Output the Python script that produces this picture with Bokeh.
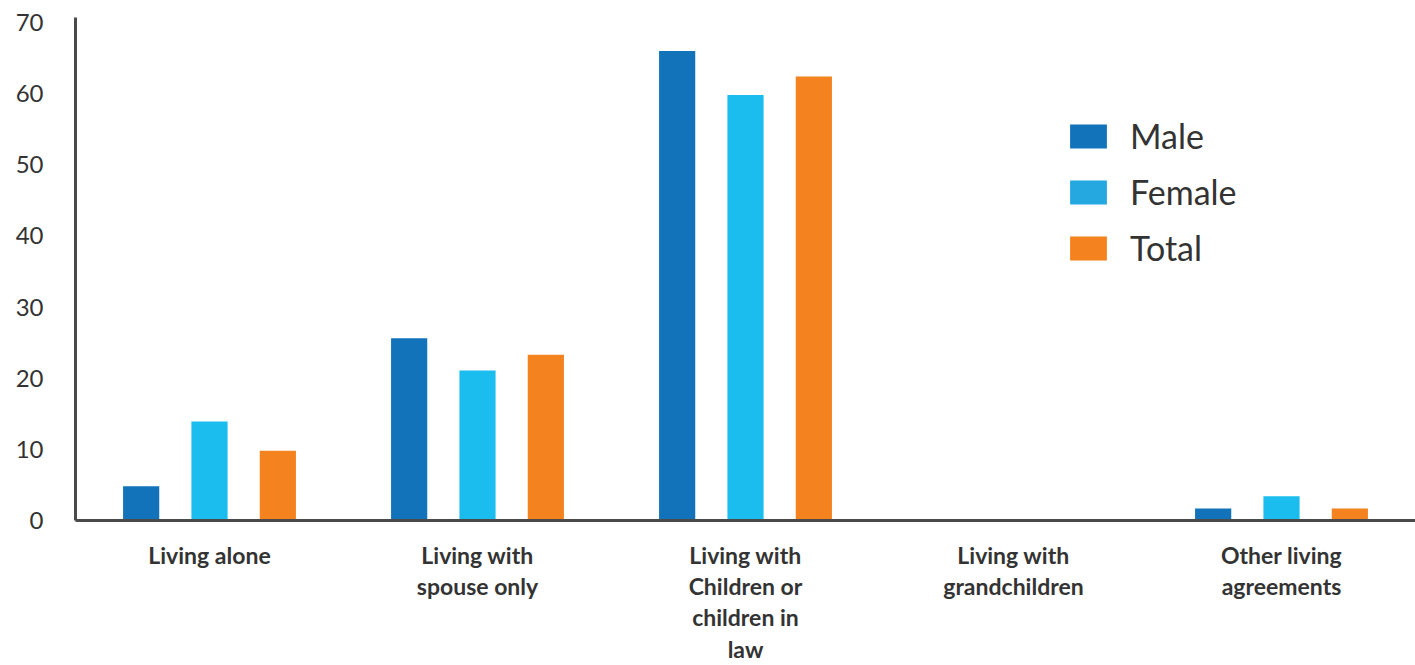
from bokeh.plotting import figure
from bokeh.models import ColumnDataSource, FactorRange, Legend, LegendItem
from bokeh.transform import dodge
from bokeh.embed import file_html
from bokeh.resources import INLINE

# Living arrangements (percent) by sex
categories = ["Living alone", "Living with\nspouse only",
              "Living with\nChildren or\nchildren in\nlaw",
              "Living with\ngrandchildren", "Other living\nagreements"]
male = [4.8, 25.6, 66.0, 0.0, 1.7]
female = [13.9, 21.1, 59.8, 0.0, 3.4]
total = [9.8, 23.3, 62.4, 0.0, 1.7]
series_names = ["Male", "Female", "Total"]
bar_colors = ["#1273BA", "#1BBDEE", "#F4821F"]
legend_colors = ["#1273BA", "#25A7E0", "#F4821F"]
y_ticks = [0, 10, 20, 30, 40, 50, 60, 70]

FONT = "Lato"
AXIS_COLOR = "#4a4a4a"
TEXT_COLOR = "#333333"

source = ColumnDataSource(dict(cat=categories, Male=male, Female=female, Total=total))

p = figure(width=1415, height=665, output_backend="svg", toolbar_location=None,
           x_range=FactorRange(*categories, range_padding=0), y_range=(0, 70.7),
           min_border_left=75, min_border_right=0, min_border_top=17,
           min_border_bottom=145)

p.outline_line_color = None
p.xgrid.grid_line_color = None
p.ygrid.grid_line_color = None
p.background_fill_color = "white"
p.border_fill_color = "white"

offsets = [-0.255, 0.0, 0.255]
for name, color, off in zip(series_names, bar_colors, offsets):
    p.vbar(x=dodge("cat", off, range=p.x_range), top=name, width=0.135,
           source=source, color=color, line_color=None)

# Legend swatches come from placeholder area renderers (no visible data points)
nan = float("nan")
items = []
for name, color in zip(series_names, legend_colors):
    r = p.quad(left=[nan], right=[nan], top=[nan], bottom=[nan],
               fill_color=color, line_color=None)
    items.append(LegendItem(label=name, renderers=[r]))

legend = Legend(items=items, location=(990, 252), orientation="vertical",
                glyph_width=46, glyph_height=30, label_height=25,
                label_standoff=19, spacing=15, padding=0, margin=0,
                border_line_color=None, background_fill_alpha=0,
                label_text_font=FONT, label_text_font_size="34px",
                label_text_color=TEXT_COLOR)
p.add_layout(legend, "center")

yax = p.yaxis[0]
yax.ticker = y_ticks
yax.axis_line_color = AXIS_COLOR
yax.axis_line_width = 3
yax.major_tick_line_color = None
yax.minor_tick_line_color = None
yax.major_label_text_font = FONT
yax.major_label_text_font_size = "24px"
yax.major_label_text_color = TEXT_COLOR
yax.major_label_standoff = 26

xax = p.xaxis[0]
xax.axis_line_color = AXIS_COLOR
xax.axis_line_width = 3
xax.major_tick_line_color = None
xax.minor_tick_line_color = None
xax.major_label_text_font = FONT
xax.major_label_text_font_style = "bold"
xax.major_label_text_font_size = "23px"
xax.major_label_text_line_height = 1.12
xax.major_label_text_color = TEXT_COLOR
xax.major_label_standoff = 14

open("out.html", "w").write(file_html(p, INLINE))
